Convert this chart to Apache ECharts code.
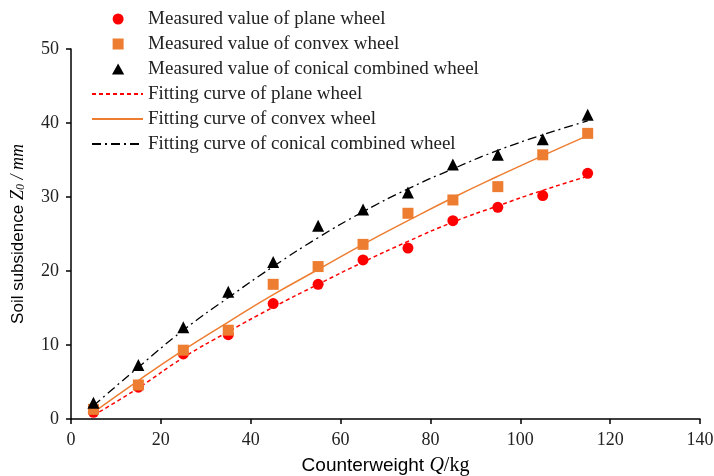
<!DOCTYPE html>
<html>
<head>
<meta charset="utf-8">
<script src="https://cdn.jsdelivr.net/npm/echarts@6/dist/echarts.min.js"></script>
<style>
  html, body { margin: 0; padding: 0; background: #fff; }
  #chart { width: 714px; height: 476px; }
</style>
</head>
<body>
<div id="chart"></div>
<script>
// Counterweight Q (kg)
const loads = [5, 15, 25, 35, 45, 55, 65, 75, 85, 95, 105, 115]

// Measured soil subsidence (mm)
const planeMeasured = [0.9, 4.3, 8.8, 11.4, 15.6, 18.2, 21.5, 23.1, 26.8, 28.6, 30.2, 33.2]
const convexMeasured = [1.3, 4.6, 9.3, 12.0, 18.2, 20.6, 23.6, 27.8, 29.6, 31.4, 35.7, 38.6]
const conicalMeasured = [2.2, 7.3, 12.4, 17.2, 21.2, 26.1, 28.3, 30.6, 34.4, 35.7, 37.8, 41.1]

// Fitting curves
const planeFit = [0.5, 4.2, 8.3, 11.8, 15.1, 18.2, 21.2, 24.0, 26.6, 28.8, 30.9, 32.8]
const convexFit = [0.9, 5.2, 9.3, 13.1, 16.8, 20.2, 23.6, 26.8, 29.9, 32.8, 35.6, 38.3]
const conicalFit = [1.8, 7.0, 12.0, 16.4, 20.6, 24.5, 28.0, 31.1, 33.8, 36.3, 38.4, 40.3]

const pair = (ys) => loads.map((x, i) => [x, ys[i]])

const serif = "'Liberation Serif', 'Times New Roman', serif"
const sans = "'Liberation Sans', Arial, sans-serif"

const RED = "#ff0000"
const ORANGE = "#ed7d31"
const BLACK = "#000000"

const squareIcon = "path://M0,0L10,0L10,10L0,10Z"
const triangleIcon = "path://M5,0L10,9L0,9Z"

const legendText = { fontFamily: serif, fontSize: 19, lineHeight: 20, color: "#222" }

const chart = echarts.init(document.getElementById("chart"))

const option = {
  animation: false,
  backgroundColor: "#fff",
  grid: { left: 71, right: 14, top: 49, bottom: 57, containLabel: false, outerBoundsMode: "none" },
  legend: [
    {
      // measured values (symbols)
      orient: "vertical",
      left: 107,
      top: 4,
      itemGap: 5,
      itemWidth: 50,
      itemHeight: 11,
      textStyle: legendText,
      data: [
        { name: "Measured value of plane wheel", icon: "circle" },
        { name: "Measured value of convex wheel", icon: squareIcon },
        { name: "Measured value of conical combined wheel", icon: triangleIcon },
      ],
    },
    {
      // fitting curves (lines only)
      orient: "vertical",
      left: 86,
      top: 79,
      itemGap: 5,
      itemWidth: 51,
      itemHeight: 14,
      textStyle: legendText,
      data: [
        { name: "Fitting curve of plane wheel", itemStyle: { opacity: 0 } },
        { name: "Fitting curve of convex wheel", itemStyle: { opacity: 0 } },
        { name: "Fitting curve of conical combined wheel", itemStyle: { opacity: 0 } },
      ],
    },
  ],
  xAxis: {
    type: "value",
    min: 0,
    max: 140,
    interval: 20,
    name: "{t|Counterweight }{i|Q}{s|/kg}",
    nameLocation: "middle",
    nameGap: 37,
    nameTextStyle: {
      rich: {
        t: { fontFamily: sans, fontSize: 19, color: "#000" },
        i: { fontFamily: serif, fontStyle: "italic", fontSize: 20, color: "#000" },
        s: { fontFamily: serif, fontSize: 20, color: "#000" },
      },
    },
    axisLine: { lineStyle: { color: "#000", width: 1.5 } },
    axisTick: { show: true, length: 5, lineStyle: { color: "#000", width: 1.5 } },
    axisLabel: { fontFamily: serif, fontSize: 18, color: "#222", margin: 12 },
    splitLine: { show: false },
  },
  yAxis: {
    type: "value",
    min: 0,
    max: 50,
    interval: 10,
    name: "{t|Soil subsidence }{i|Z}{sub|0}{s| / mm}",
    nameLocation: "middle",
    nameGap: 44,
    nameRotate: 90,
    nameTextStyle: {
      rich: {
        t: { fontFamily: sans, fontSize: 17, color: "#000" },
        i: { fontFamily: serif, fontStyle: "italic", fontSize: 18, color: "#000" },
        sub: { fontFamily: serif, fontStyle: "italic", fontSize: 12, color: "#000", verticalAlign: "bottom", padding: [6, 0, 0, 0] },
        s: { fontFamily: serif, fontStyle: "italic", fontSize: 18, color: "#000" },
      },
    },
    axisLine: { show: true, lineStyle: { color: "#000", width: 1.5 } },
    axisTick: { show: true, length: 5, lineStyle: { color: "#000", width: 1.5 } },
    axisLabel: { fontFamily: serif, fontSize: 18, color: "#222", margin: 12 },
    splitLine: { show: false },
  },
  series: [
    {
      name: "Measured value of plane wheel",
      type: "scatter",
      symbol: "circle",
      symbolSize: 11,
      itemStyle: { color: RED, opacity: 1 },
      data: pair(planeMeasured),
      z: 5,
    },
    {
      name: "Measured value of convex wheel",
      type: "scatter",
      symbol: "rect",
      symbolSize: 11,
      itemStyle: { color: ORANGE, opacity: 1 },
      data: pair(convexMeasured),
      z: 5,
    },
    {
      name: "Measured value of conical combined wheel",
      type: "scatter",
      symbol: "triangle",
      symbolSize: 12,
      itemStyle: { color: BLACK, opacity: 1 },
      data: pair(conicalMeasured),
      z: 5,
    },
    {
      name: "Fitting curve of plane wheel",
      type: "line",
      smooth: true,
      showSymbol: false,
      itemStyle: { color: RED },
      lineStyle: { color: RED, width: 1.5, type: [4, 3] },
      data: pair(planeFit),
    },
    {
      name: "Fitting curve of convex wheel",
      type: "line",
      smooth: true,
      showSymbol: false,
      itemStyle: { color: ORANGE },
      lineStyle: { color: ORANGE, width: 1.5 },
      data: pair(convexFit),
    },
    {
      name: "Fitting curve of conical combined wheel",
      type: "line",
      smooth: true,
      showSymbol: false,
      itemStyle: { color: BLACK },
      lineStyle: { color: BLACK, width: 1.3, type: [9, 4, 2, 4] },
      data: pair(conicalFit),
    },
  ],
}

chart.setOption(option)
</script>
</body>
</html>
